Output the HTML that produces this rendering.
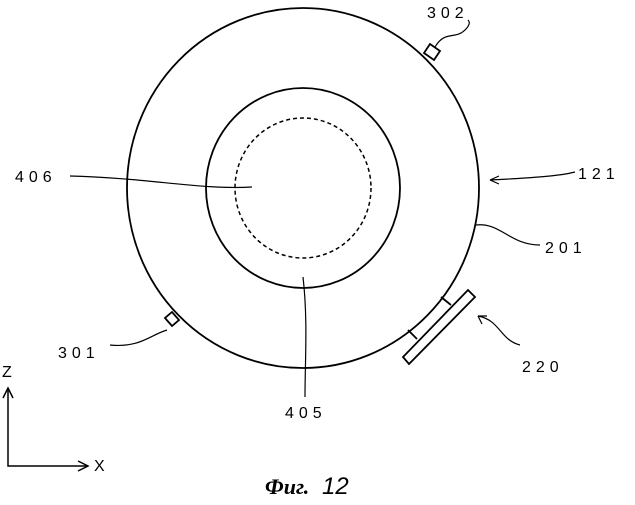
<!DOCTYPE html>
<html><head><style>
body{margin:0;background:#fff;}
text{font-family:"Liberation Sans",sans-serif;font-size:16px;fill:#000;letter-spacing:5px;}
</style></head><body>
<svg width="635" height="500" viewBox="0 0 635 500" xmlns="http://www.w3.org/2000/svg">
<g fill="none" stroke="#000" stroke-width="1.8">
<ellipse cx="303" cy="188" rx="176" ry="180"/>
<ellipse cx="303" cy="188" rx="97" ry="100"/>
<ellipse cx="303" cy="188" rx="68" ry="70" stroke-dasharray="4,3" stroke-width="1.5"/>
<polygon points="403,357 409,364 475,297 468,290" fill="#fff"/>
<line x1="441" y1="297" x2="451" y2="305"/>
<line x1="408" y1="330" x2="417" y2="339"/>
<polygon points="424,53 434,60 440,51 430,44" fill="#fff"/>
<polygon points="165,318 172,326 179,320 172,312" fill="#fff"/>
<path d="M435,47 C445,30 455,40 465,30 C470,25 470,22 468,20" stroke-width="1.2"/>
<path d="M70,176 C150,178 200,190 252,187" stroke-width="1.2"/>
<path d="M303,277 C308,320 305,360 305,397" stroke-width="1.2"/>
<path d="M476,225 C500,222 510,245 540,245" stroke-width="1.2"/>
<path d="M110,345 C140,348 150,335 167,330" stroke-width="1.2"/>
<path d="M490,180 l9,-4 M490,180 l9,4 M490,180 C530,178 560,176 575,172" stroke-width="1.2"/>
<path d="M478,316 C500,320 500,340 520,345" stroke-width="1.2"/>
<path d="M478,316 l4,8 M478,316 l9,0" stroke-width="1.2"/>
<path d="M8,388 L8,466 L88,466" stroke-width="1.5"/>
<path d="M3,398 L8,388 L13,398 M78,461 L88,466 L78,471" stroke-width="1.5"/>
</g>
<text x="427" y="18">302</text>
<text x="578" y="179">121</text>
<text x="15" y="182">406</text>
<text x="545" y="253">201</text>
<text x="58" y="358">301</text>
<text x="522" y="372">220</text>
<text x="285" y="418">405</text>
<text x="2" y="377" style="letter-spacing:0">Z</text>
<text x="94" y="471" style="letter-spacing:0">X</text>
<text x="265" y="494" style="letter-spacing:0;font-size:22px;font-style:italic;font-family:'Liberation Serif',serif;font-weight:bold">Фиг.</text>
<text x="322" y="494" style="letter-spacing:0;font-size:24px;font-style:italic">12</text>
</svg>
</body></html>
